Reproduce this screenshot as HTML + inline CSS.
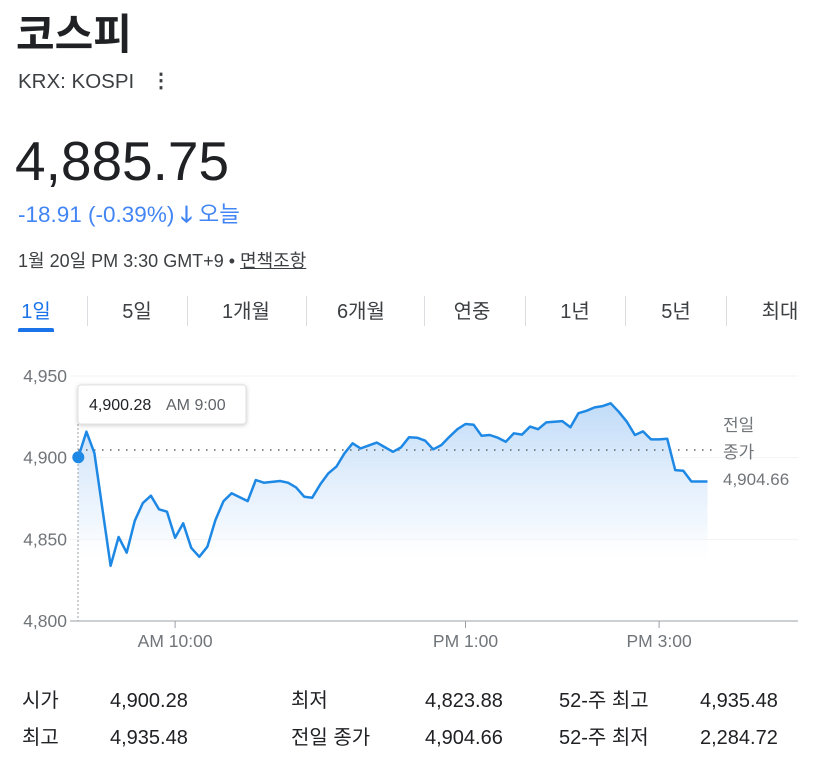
<!DOCTYPE html>
<html><head><meta charset="utf-8">
<style>
body{margin:0;width:814px;height:767px;background:#fff;font-family:"Liberation Sans","Noto Sans CJK KR",sans-serif;color:#202124;position:relative;overflow:hidden}
.a{position:absolute;white-space:nowrap}
.tab{position:absolute;top:298px;height:28px;line-height:28px;font-size:20px;color:#3c4043;text-align:center}
.sep{position:absolute;top:296px;width:1px;height:30px;background:#dadce0}
.st{position:absolute;font-size:20px;line-height:26px;height:26px;color:#202124}
</style></head><body>
<div class="a" style="left:16px;top:8px;font-size:42px;line-height:54px;font-weight:bold">코스피</div>
<div class="a" style="left:18px;top:70px;font-size:20.5px;line-height:24px;color:#3c4043">KRX: KOSPI</div>
<div class="a" style="left:151px;top:68px;font-size:20px;font-weight:bold;color:#3c4043">⋮</div>
<div class="a" style="left:15px;top:130px;font-size:55px;line-height:62px">4,885.75</div>
<div class="a" style="left:18px;top:201px;font-size:22.5px;line-height:28px;color:#4285f4">-18.91 (-0.39%) <span style="font-weight:bold">🡓</span> 오늘</div>
<div class="a" style="left:18px;top:250px;font-size:18px;line-height:22px;color:#3c4043">1월 20일 PM 3:30 GMT+9 • <span style="text-decoration:underline">면책조항</span></div>

<div class="tab" style="left:16px;width:40px;color:#1a73e8">1일</div>
<div class="a" style="left:18px;top:328px;width:36px;height:4px;border-radius:2px 2px 0 0;background:#1a73e8"></div>
<div class="sep" style="left:87px"></div>
<div class="tab" style="left:112px;width:50px">5일</div>
<div class="sep" style="left:187px"></div>
<div class="tab" style="left:210px;width:72px">1개월</div>
<div class="sep" style="left:306px"></div>
<div class="tab" style="left:325px;width:72px">6개월</div>
<div class="sep" style="left:424px"></div>
<div class="tab" style="left:447px;width:50px">연중</div>
<div class="sep" style="left:525px"></div>
<div class="tab" style="left:550px;width:50px">1년</div>
<div class="sep" style="left:625px"></div>
<div class="tab" style="left:651px;width:50px">5년</div>
<div class="sep" style="left:726px"></div>
<div class="tab" style="left:755px;width:50px">최대</div>

<svg id="chart" class="a" style="left:0;top:0" width="814" height="680">
<defs><linearGradient id="g" x1="0" y1="0" x2="0" y2="1"><stop offset="0" stop-color="#b9d7f7" stop-opacity="0.9"/><stop offset="0.75" stop-color="#e8f2fd" stop-opacity="0.6"/><stop offset="1" stop-color="#fff" stop-opacity="0"/></linearGradient></defs>
<g id="grid"></g><path id="area" fill="url(#g)"/><g id="over"></g><path id="line" fill="none" stroke="#1e88e5" stroke-width="2.5" stroke-linejoin="round"/><g id="top"></g>
</svg>

<div class="st" style="left:22px;top:688px">시가</div>
<div class="st" style="left:110px;top:688px">4,900.28</div>
<div class="st" style="left:291px;top:688px">최저</div>
<div class="st" style="left:425px;top:688px">4,823.88</div>
<div class="st" style="left:559px;top:688px">52-주 최고</div>
<div class="st" style="left:700px;top:688px">4,935.48</div>
<div class="st" style="left:22px;top:725px">최고</div>
<div class="st" style="left:110px;top:725px">4,935.48</div>
<div class="st" style="left:291px;top:725px">전일 종가</div>
<div class="st" style="left:425px;top:725px">4,904.66</div>
<div class="st" style="left:559px;top:725px">52-주 최저</div>
<div class="st" style="left:700px;top:725px">2,284.72</div>

<script>
const times=[0,5,10,20,25,30,35,40,45,50,55,60,65,70,75,80,85,90,95,105,110,115,125,130,135,140,145,150,155,160,165,170,175,185,195,200,205,210,215,220,225,230,235,240,245,250,255,260,265,270,275,280,285,290,300,305,310,315,320,325,330,335,340,345,350,355,360,365,370,375,380,390];
const values=[4900.28,4915.9,4902.8,4833.8,4851.4,4841.8,4861.4,4872.2,4876.7,4868.4,4866.9,4851.0,4859.8,4844.8,4839.3,4845.5,4861.8,4873.4,4878.2,4873.4,4886.3,4884.7,4885.7,4884.7,4881.8,4876.1,4875.5,4883.7,4890.4,4894.5,4902.7,4908.8,4905.7,4909.2,4903.6,4906.3,4912.5,4912.2,4910.4,4905.1,4907.7,4912.8,4917.4,4920.6,4920.2,4913.4,4913.9,4912.2,4909.8,4914.9,4914.1,4919.0,4917.4,4921.6,4922.4,4918.6,4927.2,4928.7,4930.8,4931.6,4933.3,4928.1,4922.0,4913.9,4916.1,4911.2,4911.2,4911.6,4892.4,4892.0,4885.4,4885.4];
const yTicks=[4950,4900,4850,4800];
const yTickLabels=["4,950","4,900","4,850","4,800"];
const xTicks=[60,240,360];
const xTickLabels=["AM 10:00","PM 1:00","PM 3:00"];
const prevClose=4904.66;
const openLabel="4,900.28";
const NS="http://www.w3.org/2000/svg";
const X=t=>78.3+t*96.8/60;
const Y=v=>376+(4950-v)*245/150;
function mk(tag,at,par,txt){const e=document.createElementNS(NS,tag);for(const k in at)e.setAttribute(k,at[k]);if(txt!=null)e.textContent=txt;document.getElementById(par).appendChild(e);return e;}
yTicks.forEach((v,i)=>{
 const l=mk('line',{x1:70,x2:798,y1:Y(v),y2:Y(v),stroke:i==3?'#9aa0a6':'#f1f3f4','stroke-width':1},'grid');
 
 
 const t=mk('text',{x:67,y:Y(v)+6,'text-anchor':'end','font-size':17.5,fill:'#70757a'},'grid',yTickLabels[i]);
 
 
});
xTicks.forEach((m,i)=>{
 const l=mk('line',{x1:X(m),x2:X(m),y1:621,y2:628,stroke:'#9aa0a6'},'grid');
 
 
 const t=mk('text',{x:X(m),y:647,'text-anchor':'middle','font-size':17.5,fill:'#70757a'},'grid',xTickLabels[i]);
 
 
});
let d=times.map((t,i)=>(i?'L':'M')+X(t).toFixed(1)+' '+Y(values[i]).toFixed(1)).join(' ');
document.getElementById('line').setAttribute('d',d);
document.getElementById('line');
document.getElementById('line');
document.getElementById('area').setAttribute('d',d+` L${X(times[times.length-1])} 560 L${X(0)} 560 Z`);
document.getElementById('area');
document.getElementById('area');
const pc=mk('line',{x1:78,x2:715,y1:Y(prevClose),y2:Y(prevClose),stroke:'#5f6368','stroke-width':1.5,'stroke-dasharray':'1.5 6.5'},'over');


['전일','종가','4,904.66'].forEach((s,i)=>{const t=mk('text',{x:723,y:431+i*27,'font-size':17,fill:'#70757a'},'over',s);
 
 });
const vl=mk('line',{x1:78,x2:78,y1:424,y2:621,stroke:'#9aa0a6','stroke-dasharray':'2 2'},'top');


const tb=mk('rect',{x:78,y:385,width:168,height:39,rx:3,fill:'#fff',stroke:'#e0e0e0',style:'filter:drop-shadow(0 1px 2px rgba(0,0,0,.2))'},'top');


const tt=mk('text',{x:89,y:410,'font-size':16,fill:'#202124'},'top',openLabel);


const tm=mk('text',{x:166,y:410,'font-size':16,fill:'#5f6368'},'top','AM 9:00');


const dot=mk('circle',{cx:X(0),cy:Y(values[0]),r:6,fill:'#1e88e5'},'top');


</script>
</body></html>
